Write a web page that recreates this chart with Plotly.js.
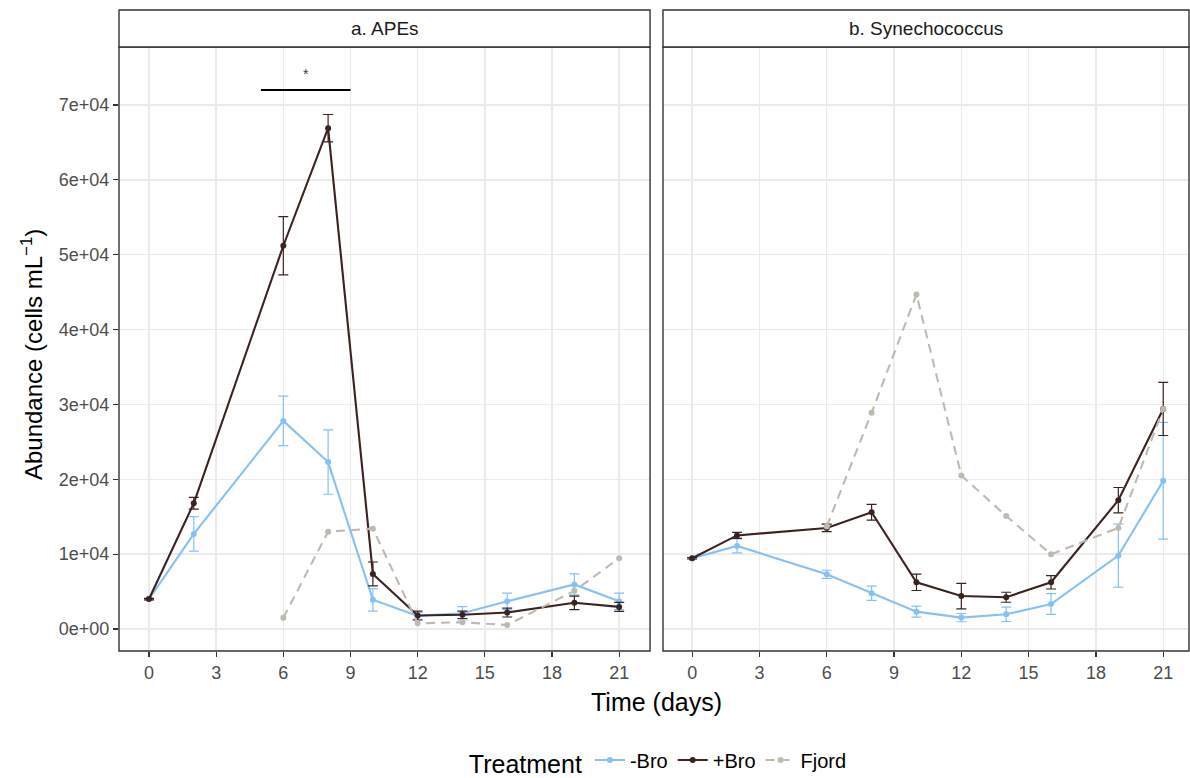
<!DOCTYPE html>
<html>
<head>
<meta charset="utf-8">
<script src="https://cdn.plot.ly/plotly-3.0.1.min.js"></script>
<style>
  html, body { margin: 0; padding: 0; background: #ffffff; }
  #chart { width: 1190px; height: 778px; }
</style>
</head>
<body>
<div id="chart"></div>
<script>
// Sampling days
const daysMain = [0, 2, 6, 8, 10, 12, 14, 16, 19, 21];
const daysFjord = [6, 8, 10, 12, 14, 16, 19, 21];

// a. APEs (cells mL^-1), mean and standard error
const apesMinusBro = [4000, 12700, 27800, 22300, 3900, 1750, 2100, 3700, 5950, 3700];
const apesMinusBroSE = [100, 2300, 3300, 4300, 1500, 450, 900, 1100, 1400, 1100];
const apesPlusBro = [4000, 16800, 51200, 66900, 7350, 1800, 1900, 2200, 3500, 2950];
const apesPlusBroSE = [100, 780, 3900, 1830, 1600, 600, 500, 600, 900, 600];
const apesFjord = [1500, 13000, 13400, 760, 900, 530, 5100, 9450];

// b. Synechococcus (cells mL^-1), mean and standard error
const synMinusBro = [9450, 11100, 7300, 4770, 2320, 1520, 1960, 3340, 9800, 19800];
const synMinusBroSE = [100, 940, 550, 960, 730, 550, 960, 1380, 4200, 7800];
const synPlusBro = [9450, 12500, 13500, 15600, 6240, 4400, 4240, 6240, 17200, 29400];
const synPlusBroSE = [100, 400, 500, 1050, 1100, 1700, 670, 900, 1700, 3550];
const synFjord = [13700, 28900, 44700, 20500, 15100, 9980, 13500, 29400];

// Treatment names and panel labels
const treatments = ['-Bro', '+Bro', 'Fjord'];
const panelLabels = ['a. APEs', 'b. Synechococcus'];
const xTicks = [0, 3, 6, 9, 12, 15, 18, 21];
const yTicks = [0, 10000, 20000, 30000, 40000, 50000, 60000, 70000];
const yTickText = ['0e+00', '1e+04', '2e+04', '3e+04', '4e+04', '5e+04', '6e+04', '7e+04'];

// Significance bracket over days 6–8 in panel a
const sigDays = [5, 9];
const sigLevel = 72000;
const sigStarLevel = 74200;

const colors = { '-Bro': '#86C1F5', '+Bro': '#3B2320', 'Fjord': '#BFBAB0' };
const FONT = '"Liberation Sans", Arial, Helvetica, sans-serif';

function seriesTrace(name, x, y, se, xa, showLegend) {
  const c = colors[name];
  const t = {
    type: 'scatter', mode: 'lines+markers', name: name, legendgroup: name,
    showlegend: showLegend, x: x, y: y, xaxis: xa, yaxis: 'y',
    line: { color: c, width: 2.1 },
    marker: { color: c, size: 6 },
    hoverinfo: 'x+y+name'
  };
  if (name === 'Fjord') t.line.dash = '9px,6px';
  if (se) {
    t.error_y = { type: 'data', array: se, visible: true, color: c, thickness: 1.2, width: 5 };
  }
  return t;
}

const data = [
  seriesTrace(treatments[0], daysMain, apesMinusBro, apesMinusBroSE, 'x', true),
  seriesTrace(treatments[1], daysMain, apesPlusBro, apesPlusBroSE, 'x', true),
  seriesTrace(treatments[2], daysFjord, apesFjord, null, 'x', true),
  seriesTrace(treatments[0], daysMain, synMinusBro, synMinusBroSE, 'x2', false),
  seriesTrace(treatments[1], daysMain, synPlusBro, synPlusBroSE, 'x2', false),
  seriesTrace(treatments[2], daysFjord, synFjord, null, 'x2', false)
];

const leftDom = [0, 0.4963];
const rightDom = [0.5084, 1];
const stripTop = 1 + 37 / 604;

function xAxis(domain) {
  return {
    domain: domain, range: [-1.34, 22.38],
    tickvals: xTicks, ticktext: xTicks.map(String),
    showgrid: true, gridcolor: '#EBEBEB', gridwidth: 1.4,
    zeroline: false, showline: false,
    ticks: 'outside', ticklen: 5, tickwidth: 1.2, tickcolor: '#333333',
    tickfont: { family: FONT, size: 18, color: '#4D4D4D' },
    fixedrange: true
  };
}

const xa2 = xAxis(rightDom);
xa2.range = [-1.3, 22.15];
xa2.anchor = 'y';

const layout = {
  width: 1190, height: 778,
  margin: { l: 119, r: 1, t: 47, b: 127, autoexpand: false },
  paper_bgcolor: '#ffffff', plot_bgcolor: '#ffffff',
  font: { family: FONT, color: '#000000' },
  xaxis: xAxis(leftDom),
  xaxis2: xa2,
  yaxis: {
    range: [-2940, 77750],
    tickvals: yTicks, ticktext: yTickText,
    showgrid: true, gridcolor: '#EBEBEB', gridwidth: 1.4,
    zeroline: false, showline: false,
    ticks: 'outside', ticklen: 5, tickwidth: 1.2, tickcolor: '#333333',
    tickfont: { family: FONT, size: 18, color: '#4D4D4D' },
    fixedrange: true
  },
  showlegend: true,
  legend: {
    orientation: 'h', x: 0.505, xanchor: 'center',
    yref: 'container', y: 16 / 778, yanchor: 'middle',
    title: { text: 'Treatment', side: 'left', font: { family: FONT, size: 25, color: '#000000' } },
    font: { family: FONT, size: 20, color: '#000000' },
    itemwidth: 30, tracegroupgap: 0
  },
  shapes: [
    // panel borders
    { type: 'rect', xref: 'paper', yref: 'paper', x0: leftDom[0], x1: leftDom[1], y0: 0, y1: 1,
      line: { color: '#333333', width: 1.4 }, fillcolor: 'rgba(0,0,0,0)', layer: 'above' },
    { type: 'rect', xref: 'paper', yref: 'paper', x0: rightDom[0], x1: rightDom[1], y0: 0, y1: 1,
      line: { color: '#333333', width: 1.4 }, fillcolor: 'rgba(0,0,0,0)', layer: 'above' },
    // facet strips
    { type: 'rect', xref: 'paper', yref: 'paper', x0: leftDom[0], x1: leftDom[1], y0: 1, y1: stripTop,
      line: { color: '#333333', width: 1.4 }, fillcolor: '#ffffff' },
    { type: 'rect', xref: 'paper', yref: 'paper', x0: rightDom[0], x1: rightDom[1], y0: 1, y1: stripTop,
      line: { color: '#333333', width: 1.4 }, fillcolor: '#ffffff' },
    // significance bracket
    { type: 'line', xref: 'x', yref: 'y', x0: sigDays[0], x1: sigDays[1], y0: sigLevel, y1: sigLevel,
      line: { color: '#000000', width: 2 } }
  ],
  annotations: [
    { text: panelLabels[0], xref: 'paper', yref: 'paper', x: (leftDom[0] + leftDom[1]) / 2, y: (1 + stripTop) / 2,
      xanchor: 'center', yanchor: 'middle', showarrow: false, font: { family: FONT, size: 19, color: '#1A1A1A' } },
    { text: panelLabels[1], xref: 'paper', yref: 'paper', x: (rightDom[0] + rightDom[1]) / 2, y: (1 + stripTop) / 2,
      xanchor: 'center', yanchor: 'middle', showarrow: false, font: { family: FONT, size: 19, color: '#1A1A1A' } },
    { text: 'Time (days)', xref: 'paper', yref: 'paper', x: 0.502, y: -0.0844,
      xanchor: 'center', yanchor: 'middle', showarrow: false, font: { family: FONT, size: 25, color: '#000000' } },
    { text: 'Abundance (cells mL<sup>\u22121</sup>)', xref: 'paper', yref: 'paper', x: -0.0813, y: 0.49,
      xanchor: 'center', yanchor: 'middle', textangle: -90, showarrow: false,
      font: { family: FONT, size: 24, color: '#000000' } },
    { text: '*', xref: 'x', yref: 'y', x: (sigDays[0] + sigDays[1]) / 2, y: sigStarLevel,
      xanchor: 'center', yanchor: 'middle', showarrow: false, font: { family: FONT, size: 14, color: '#3B3B3B' } }
  ]
};

Plotly.newPlot('chart', data, layout, { displayModeBar: false, staticPlot: true });
</script>
</body>
</html>
